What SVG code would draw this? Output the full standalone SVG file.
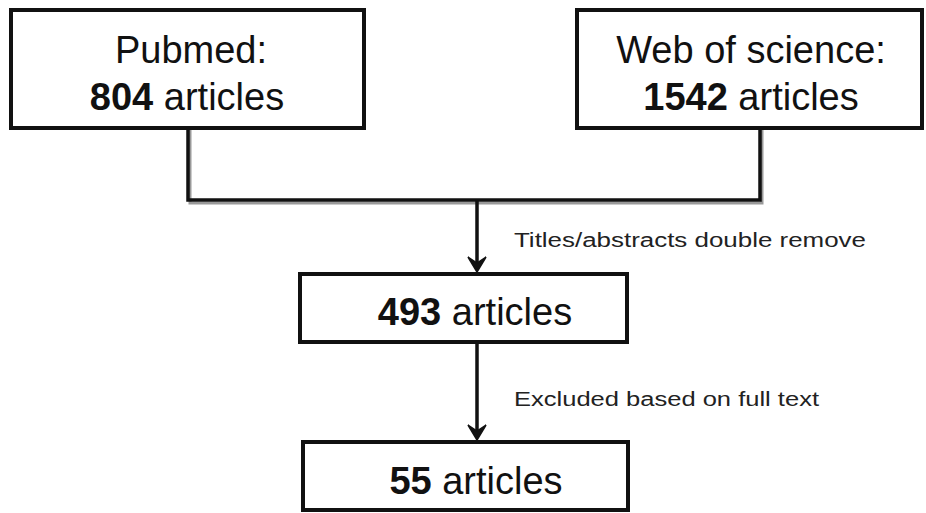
<svg xmlns="http://www.w3.org/2000/svg" width="926" height="513" viewBox="0 0 926 513">
<style>
.box{fill:#fff;stroke:#111;stroke-width:4}
.sh{fill:none;stroke:#999;stroke-width:3}
.big{font-family:"Liberation Sans",Arial,sans-serif;font-size:38px;fill:#111}
.small{font-family:"Liberation Sans",Arial,sans-serif;font-size:20px;fill:#222}
.line{fill:none;stroke:#111;stroke-width:3.5}
.head{fill:#111;stroke:#111;stroke-width:1.5;stroke-linejoin:miter}
</style>
<rect width="926" height="513" fill="#fff"/>
<g id="connectors">
<polyline class="sh" points="190,130 190,203 762,203 762,130"/>
<polyline class="line" points="188,128 188,200 760,200 760,128"/>
<line class="line" x1="477" y1="200" x2="477" y2="266"/>
<polygon class="head" points="468,257 477,272 486,257 477,263"/>
<line class="line" x1="477" y1="342" x2="477" y2="434"/>
<polygon class="head" points="468,425 477,440 486,425 477,431"/>
<text class="small" x="514" y="247" textLength="352" lengthAdjust="spacingAndGlyphs">Titles/abstracts double remove</text>
<text class="small" x="514" y="406" textLength="305" lengthAdjust="spacingAndGlyphs">Excluded based on full text</text>
</g>
<g id="pubmed">
<rect class="box" x="11" y="10" width="353" height="118"/>
<text class="big" x="191" y="63" text-anchor="middle">Pubmed:</text>
<text class="big" x="187" y="110" text-anchor="middle"><tspan font-weight="bold">804</tspan> articles</text>
</g>
<g id="wos">
<rect class="box" x="577" y="10" width="345" height="118"/>
<text class="big" x="751" y="63" text-anchor="middle">Web of science:</text>
<text class="big" x="751" y="110" text-anchor="middle"><tspan font-weight="bold">1542</tspan> articles</text>
</g>
<g id="n493">
<rect class="box" x="300" y="274" width="327" height="68"/>
<text class="big" x="475" y="325" text-anchor="middle"><tspan font-weight="bold">493</tspan> articles</text>
</g>
<g id="n55">
<rect class="box" x="303" y="442" width="325" height="68"/>
<text class="big" x="476" y="494" text-anchor="middle"><tspan font-weight="bold">55</tspan> articles</text>
</g>
</svg>
